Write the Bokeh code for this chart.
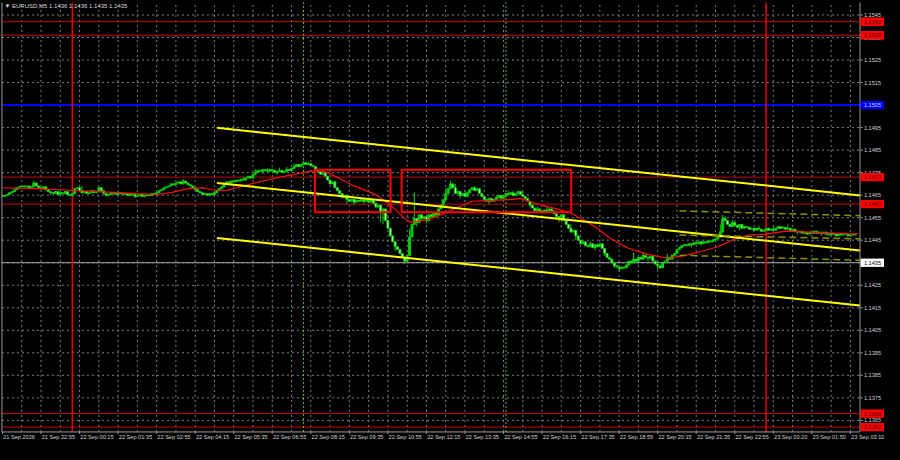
from bokeh.plotting import figure
from bokeh.models import Range1d, GlobalInlineStyleSheet
from bokeh.core.properties import value
from bokeh.embed import file_html
from bokeh.resources import INLINE

# price = BASE + points / 100000
BASE = 1.14

# EURUSD M5 closes (points above 1.14000), one per bar
close_pts = [
    644, 649, 653, 661, 666, 674, 683, 687, 691, 687,
    691, 683, 687, 704, 691, 683, 679, 687, 674, 666,
    661, 657, 666, 653, 661, 657, 666, 653, 649, 657,
    679, 683, 670, 661, 666, 657, 661, 670, 661, 666,
    683, 670, 657, 649, 653, 661, 657, 653, 661, 657,
    653, 657, 649, 657, 653, 644, 649, 653, 644, 649,
    653, 649, 657, 653, 661, 670, 674, 683, 687, 691,
    700, 696, 704, 709, 700, 713, 704, 696, 691, 683,
    674, 666, 661, 653, 657, 649, 657, 653, 661, 670,
    679, 687, 700, 709, 704, 713, 709, 717, 713, 721,
    717, 726, 734, 726, 743, 751, 760, 756, 764, 760,
    756, 764, 760, 751, 756, 760, 751, 756, 764, 760,
    769, 777, 786, 777, 786, 794, 786, 790, 781, 777,
    764, 756, 743, 751, 734, 717, 700, 709, 683, 670,
    657, 640, 649, 631, 623, 631, 619, 627, 623, 631,
    623, 627, 619, 627, 614, 597, 606, 571, 589, 537,
    503, 469, 443, 421, 409, 391, 374, 357, 383, 464,
    520, 546, 529, 563, 546, 554, 537, 563, 554, 571,
    563, 589, 606, 631, 657, 679, 700, 683, 657, 666,
    649, 657, 644, 661, 674, 683, 670, 679, 657, 644,
    631, 623, 636, 623, 631, 640, 649, 636, 644, 657,
    653, 661, 649, 657, 666, 653, 644, 636, 623, 606,
    593, 580, 589, 580, 571, 584, 576, 589, 580, 567,
    554, 546, 563, 537, 520, 503, 486, 494, 469, 451,
    434, 443, 426, 421, 434, 417, 430, 421, 434, 413,
    391, 374, 366, 349, 336, 331, 323, 331, 327, 340,
    357, 349, 366, 357, 374, 366, 383, 374, 370, 379,
    357, 344, 336, 327, 349, 357, 374, 366, 383, 391,
    409, 417, 426, 430, 426, 434, 430, 439, 434, 443,
    434, 443, 439, 447, 443, 451, 456, 464, 486, 546,
    537, 520, 511, 529, 516, 507, 520, 503, 511, 507,
    499, 503, 494, 503, 499, 490, 494, 503, 494, 499,
    494, 503, 511, 503, 507, 499, 503, 494, 499, 490,
    486, 490, 481, 486, 477, 486, 481, 490, 481, 486,
    481, 486, 477, 473, 481, 477, 469, 477, 473, 481,
    477, 469, 473, 477, 473,
]
# visible wick extremes (bar -> points)
wick_high = {13: 713, 33: 691, 40: 687, 75: 721, 100: 730, 105: 765, 110: 770,
             115: 772, 118: 775, 121: 790, 125: 803, 127: 799, 130: 775,
             141: 660, 157: 589, 161: 503, 169: 500, 171: 661, 184: 680,
             186: 713, 188: 700, 192: 670, 196: 690, 205: 650, 210: 670,
             212: 670, 216: 665, 222: 600, 226: 600, 236: 520, 244: 445,
             262: 395, 266: 395, 276: 390, 298: 520, 299: 563, 300: 556,
             303: 540, 314: 515, 320: 510, 326: 520}
wick_low = {20: 650, 55: 636, 108: 745, 114: 740, 143: 610, 146: 605,
            150: 610, 157: 529, 158: 520, 163: 400, 167: 344, 170: 480,
            172: 510, 176: 525, 180: 550, 190: 635, 202: 610, 219: 595,
            231: 530, 238: 450, 246: 405, 250: 380, 254: 327, 256: 310,
            260: 340, 268: 355, 272: 319, 286: 420, 290: 425, 306: 495,
            330: 475, 340: 470}

# moving average (bar, points)
ma_bars = [0, 13, 24, 40, 56, 64, 70, 77, 83, 87, 93, 97, 108, 117, 130, 135,
           146, 154, 159, 162, 168, 170, 176, 183, 190, 195, 203, 212, 215, 221,
           230, 236, 241, 247, 252, 260, 268, 276, 282, 290, 297, 304, 310, 317,
           325, 334, 345, 355]
ma_pts = [683, 679, 674, 666, 657, 653, 661, 679, 683, 674, 670, 683, 713, 734, 760, 751,
          691, 657, 623, 597, 537, 529, 541, 567, 601, 623, 627, 631, 636, 614,
          589, 571, 541, 503, 460, 413, 387, 370, 379, 400, 421, 456, 473, 477,
          490, 486, 481, 477]

price_ticks = [1.1365, 1.1375, 1.1385, 1.1395, 1.1405, 1.1415, 1.1425, 1.1435,
               1.1445, 1.1455, 1.1465, 1.1475, 1.1485, 1.1495, 1.1505, 1.1515,
               1.1525, 1.1535, 1.1545]
time_label_bars = [0, 16, 32, 48, 64, 80, 96, 112, 128, 144, 160, 176, 192,
                   208, 224, 240, 256, 272, 288, 304, 320, 336, 352]
time_labels = ["21 Sep 2026", "21 Sep 22:55", "22 Sep 00:15", "22 Sep 01:35",
               "22 Sep 02:55", "22 Sep 04:15", "22 Sep 05:35", "22 Sep 06:55",
               "22 Sep 08:15", "22 Sep 09:35", "22 Sep 10:55", "22 Sep 12:15",
               "22 Sep 13:35", "22 Sep 14:55", "22 Sep 16:15", "22 Sep 17:35",
               "22 Sep 18:55", "22 Sep 20:15", "22 Sep 21:35", "22 Sep 22:55",
               "23 Sep 00:20", "23 Sep 01:50", "23 Sep 03:10"]
grid_bars = list(range(8, 356, 8))

red_levels = [1.1542, 1.1536, 1.1473, 1.1461, 1.1368, 1.1362]
blue_level = 1.1505
white_level = 1.1435
red_vlines = [29, 317]
green_vlines = [125, 209]

channel_x = [89, 356]
channel_upper = [1.14949, 1.14649]
channel_mid = [1.14704, 1.14404]
channel_lower = [1.14460, 1.14160]

dash_x = [281, 356]
dash_upper = [1.14580, 1.14559]
dash_mid = [1.14473, 1.14456]
dash_lower = [1.14383, 1.14361]

box_left = [129.7, 165.7]
box_right = [161.1, 236.1]
box_top = [1.14763, 1.14763]
box_bottom = [1.14574, 1.14574]

title_text = "\u25bc EURUSD,M5  1.1436 1.1436 1.1435 1.1435"

# ---- layout (whole canvas is the data frame) ----
FONT = "Liberation Sans"
BG = "#000000"
GRAY = "#9a9a9a"
X0, X1 = -0.8155, 366.16          # canvas edges in bar units
Y0, Y1 = 1.135429, 1.155143       # canvas edges in price
FL, FR = -0.2, 356.0              # chart frame (bars)
FB, FT = 1.135986, 1.155057       # chart frame (price)
PX = 0.0000429                    # one reference pixel in price

p = figure(width=884, height=444, x_range=Range1d(X0, X1), y_range=Range1d(Y0, Y1),
           output_backend="svg", toolbar_location=None,
           x_axis_location=None, y_axis_location=None, min_border=0,
           background_fill_color=BG, border_fill_color=BG, outline_line_color=None)
p.grid.visible = False
p.stylesheets = [GlobalInlineStyleSheet(css="html, body { background: #000000; }")]

# dashed grid
p.segment(x0=grid_bars, x1=grid_bars, y0=[FB] * len(grid_bars), y1=[FT] * len(grid_bars),
          line_color="#75808c", line_dash="2 3", line_width=1)
p.segment(x0=[FL] * len(price_ticks), x1=[FR] * len(price_ticks), y0=price_ticks,
          y1=price_ticks, line_color="#75808c", line_dash="2 3", line_width=1)

# horizontal / vertical levels
p.segment(x0=[FL] * len(red_levels), x1=[FR] * len(red_levels), y0=red_levels,
          y1=red_levels, line_color="#c00000", line_width=1)
p.segment(x0=[FL], x1=[FR], y0=[blue_level], y1=[blue_level], line_color="#0000ff", line_width=2)
p.segment(x0=[FL], x1=[FR], y0=[white_level], y1=[white_level], line_color="#a8a8a8", line_width=1)
p.segment(x0=red_vlines, x1=red_vlines, y0=[FB] * 2, y1=[FT] * 2,
          line_color="#e00000", line_width=1.6)
p.segment(x0=green_vlines, x1=green_vlines, y0=[FB] * 2, y1=[FT] * 2,
          line_color="#6fbf20", line_width=1, line_dash="2 2")

# candles
opens = [close_pts[0]] + close_pts[:-1]
xs, o_p, c_p, h_p, l_p, fills = [], [], [], [], [], []
for i, (o, c) in enumerate(zip(opens, close_pts)):
    hi = max(o, c, wick_high.get(i, -10**6))
    lo = min(o, c, wick_low.get(i, 10**6))
    xs.append(i)
    o_p.append(BASE + o / 1e5)
    c_p.append(BASE + c / 1e5)
    h_p.append(BASE + hi / 1e5)
    l_p.append(BASE + lo / 1e5)
    fills.append("#00d000" if c >= o else "#d8ffd8")
p.segment(x0=xs, y0=l_p, x1=xs, y1=h_p, line_color="#00d000", line_width=1)
p.vbar(x=xs, width=0.8, top=[max(a, b) for a, b in zip(o_p, c_p)],
       bottom=[min(a, b) for a, b in zip(o_p, c_p)],
       fill_color=fills, line_color="#00d000", line_width=1)

# moving average
p.line(ma_bars, [BASE + v / 1e5 for v in ma_pts], line_color="#ff1010", line_width=1.2)

# channel
for ys in (channel_upper, channel_mid, channel_lower):
    p.line(channel_x, ys, line_color="#ffff00", line_width=2)
for ys in (dash_upper, dash_mid, dash_lower):
    p.line(dash_x, ys, line_color="#8f8f00", line_width=1.5, line_dash="7 4")

# rectangles
p.quad(left=box_left, right=box_right, top=box_top, bottom=box_bottom,
       fill_alpha=0, line_color="#ff0000", line_width=2)

# frame outline
p.line([FL, FL, FR, FR], [FT, FB, FB, FT], line_color=GRAY, line_width=1)

# right price scale
p.segment(x0=[FR] * len(price_ticks), x1=[FR + 1.1] * len(price_ticks),
          y0=price_ticks, y1=price_ticks, line_color=GRAY, line_width=1)
p.text(x=[FR + 1.6] * len(price_ticks), y=price_ticks,
       text=["%.4f" % t for t in price_ticks], text_font=value(FONT),
       text_font_size=value("5.6px"), text_color="#d0d0d0",
       text_baseline="middle", text_align="left")

# bottom time scale
p.segment(x0=time_label_bars, x1=time_label_bars, y0=[FB] * len(time_label_bars),
          y1=[FB - 2 * PX] * len(time_label_bars), line_color=GRAY, line_width=1)
p.text(x=[b + 0.3 for b in time_label_bars], y=[FB - 5 * PX] * len(time_label_bars),
       text=time_labels, text_font=value(FONT), text_font_size=value("5.6px"),
       text_color="#d0d0d0", text_baseline="middle", text_align="left")

# price boxes for the levels
box_vals = red_levels + [blue_level, white_level]
box_bg = ["#ff0000"] * len(red_levels) + ["#0000ff", "#ffffff"]
box_fg = ["#400000"] * len(red_levels) + ["#d0d0ff", "#000000"]
p.quad(left=[FR + 0.2] * len(box_vals), right=[X1] * len(box_vals),
       top=[v + 4.3 * PX for v in box_vals], bottom=[v - 4.3 * PX for v in box_vals],
       fill_color=box_bg, line_color=None)
p.text(x=[FR + 1.6] * len(box_vals), y=box_vals, text=["%.4f" % v for v in box_vals],
       text_font=value(FONT), text_font_size=value("5.6px"), text_color=box_fg,
       text_baseline="middle", text_align="left")

# title
p.text(x=[0.8], y=[1.154886], text=[title_text], text_font=value(FONT),
       text_font_size=value("6px"), text_color="#d8d8d8",
       text_baseline="middle", text_align="left")

open("out.html", "w").write(file_html(p, INLINE))
